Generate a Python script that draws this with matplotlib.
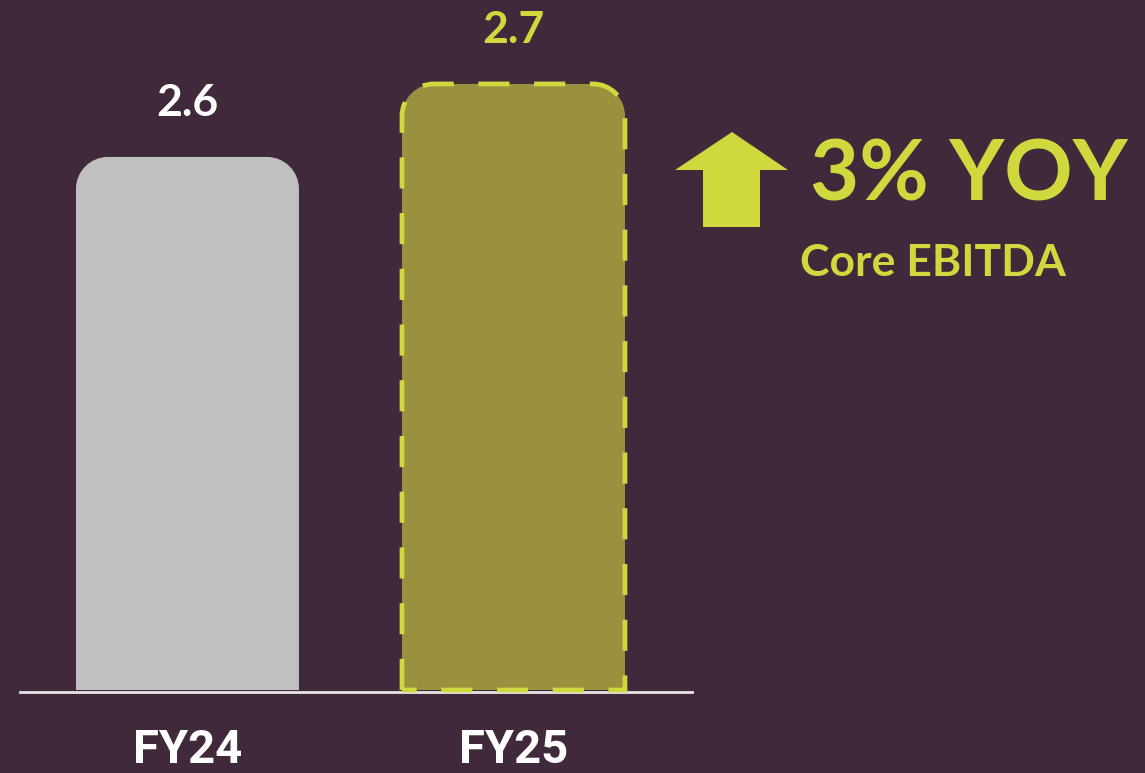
import matplotlib
matplotlib.use("Agg")
import matplotlib.pyplot as plt
from matplotlib.path import Path
from matplotlib.patches import PathPatch, Polygon
from matplotlib.transforms import IdentityTransform

# ---- data ----
categories = ["FY24", "FY25"]
values = [2.6, 2.7]
value_labels = ["2.6", "2.7"]
yoy_text = "3% YOY"
metric_text = "Core EBITDA"

# ---- style ----
BG = "#3f293b"
YELLOW = "#cfd93e"
OLIVE = "#9a913f"
GRAY = "#c0c0c0"
W, H = 1145, 773
SANS = ["Lato", "DejaVu Sans"]

fig = plt.figure(figsize=(W / 100, H / 100), dpi=100, facecolor=BG)
ax = fig.add_axes([0, (H - 692) / H, 1, 692 / H])
ax.set_facecolor(BG)
ax.set_xlim(-0.575, 2.937)
ax.set_ylim(1.867, 2.815)
ax.axis("off")

bar_w = 0.684
x = list(range(len(categories)))
bars = ax.bar(x, values, width=bar_w, bottom=0, color="none")
for b in bars:
    b.set_visible(False)


def rounded_top_path(x0, x1, y0, y1, r):
    k = 0.5523
    verts = [
        (x0, y0), (x0, y1 - r),
        (x0, y1 - r + k * r), (x0 + r - k * r, y1), (x0 + r, y1),
        (x1 - r, y1),
        (x1 - r + k * r, y1), (x1, y1 - r + k * r), (x1, y1 - r),
        (x1, y0), (x0, y0),
    ]
    codes = [Path.MOVETO, Path.LINETO,
             Path.CURVE4, Path.CURVE4, Path.CURVE4,
             Path.LINETO,
             Path.CURVE4, Path.CURVE4, Path.CURVE4,
             Path.LINETO, Path.CLOSEPOLY]
    return Path(verts, codes)


ymin = ax.get_ylim()[0]
for i, (xi, v) in enumerate(zip(x, values)):
    (px0, py0) = ax.transData.transform((xi - bar_w / 2, ymin))
    (px1, py1) = ax.transData.transform((xi + bar_w / 2, v))
    path = rounded_top_path(px0, px1, py0 + 2, py1, 32)
    if i == 0:
        patch = PathPatch(path, facecolor=GRAY, edgecolor="none",
                          transform=IdentityTransform())
    else:
        patch = PathPatch(path, facecolor=OLIVE, edgecolor=YELLOW,
                          linewidth=3.4, linestyle=(0, (6.6, 5.2)),
                          transform=IdentityTransform())
    fig.add_artist(patch)

# baseline
ax.axhline(ymin, xmin=20 / W, xmax=692 / W, color="#e6e6e6", linewidth=2,
           clip_on=False)

# value labels
label_colors = ["white", YELLOW]
for xi, v, lab, c in zip(x, values, value_labels, label_colors):
    ax.annotate(lab, (xi, v), xytext=(0, 39), textcoords="offset points",
                ha="center", va="center", fontsize=32, fontweight="bold",
                color=c, family=SANS)

# category labels
for xi, cat in zip(x, categories):
    ax.annotate(cat, (xi, ymin), xytext=(0, -42), textcoords="offset points",
                ha="center", va="center", fontsize=34, fontweight="bold",
                color="white",
                family=["Liberation Sans Narrow", "Roboto", "DejaVu Sans"],
                annotation_clip=False)

# arrow (display pixel coords, y flipped)
arrow_pts = [(732, 132), (788, 170), (760, 170), (760, 227),
             (703, 227), (703, 170), (675, 170)]
arrow = Polygon([(px, H - py) for px, py in arrow_pts], closed=True,
                facecolor=YELLOW, edgecolor="none", transform=IdentityTransform())
fig.add_artist(arrow)

fig.text(810 / W, 1 - 176 / H, yoy_text, ha="left", va="center",
         fontsize=61, fontweight="bold", color=YELLOW, family=SANS)
fig.text(800 / W, 1 - 263 / H, metric_text, ha="left", va="center",
         fontsize=32, fontweight="bold", color=YELLOW, family=SANS)

fig.savefig("out.png", dpi=100, facecolor=BG)
